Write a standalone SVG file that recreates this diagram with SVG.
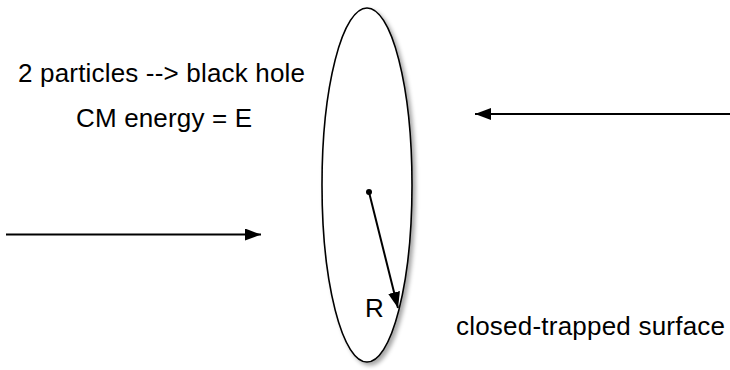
<svg xmlns="http://www.w3.org/2000/svg" width="730" height="370" viewBox="0 0 730 370">
<style>
text{font-family:"Liberation Sans",Arial,Helvetica,sans-serif;font-size:26px;fill:#000}
.ln{stroke:#000;stroke-width:2;fill:none}
</style>
<defs>
<marker id="ah2" markerWidth="16" markerHeight="12" refX="16" refY="6" orient="auto" markerUnits="userSpaceOnUse" viewBox="0 0 16 12">
<path d="M0,0 L16,6 L0,12 z" fill="#000"/>
</marker>
<filter id="sh" x="-20%" y="-10%" width="140%" height="120%">
<feDropShadow dx="3" dy="3" stdDeviation="2" flood-color="#000" flood-opacity="0.35"/>
</filter>
</defs>
<g id="surface">
<ellipse cx="367" cy="185" rx="45" ry="177" fill="#fff" stroke="#000" stroke-width="1.6" filter="url(#sh)"/>
</g>
<g id="center">
<circle cx="369" cy="192" r="3" fill="#000"/>
</g>
<g id="connectors">
<line class="ln" x1="6" y1="234.5" x2="261" y2="234.5" marker-end="url(#ah2)"/>
<line class="ln" x1="730" y1="114" x2="475" y2="114" marker-end="url(#ah2)"/>
<line class="ln" x1="369" y1="192" x2="398" y2="308" marker-end="url(#ah2)"/>
</g>
<g id="labels">
<text x="18" y="82" textLength="287" lengthAdjust="spacing">2 particles --&gt; black hole</text>
<text x="76" y="127" textLength="176" lengthAdjust="spacing">CM energy = E</text>
<text x="365" y="317">R</text>
<text x="456" y="335" textLength="269" lengthAdjust="spacing">closed-trapped surface</text>
</g>
</svg>
